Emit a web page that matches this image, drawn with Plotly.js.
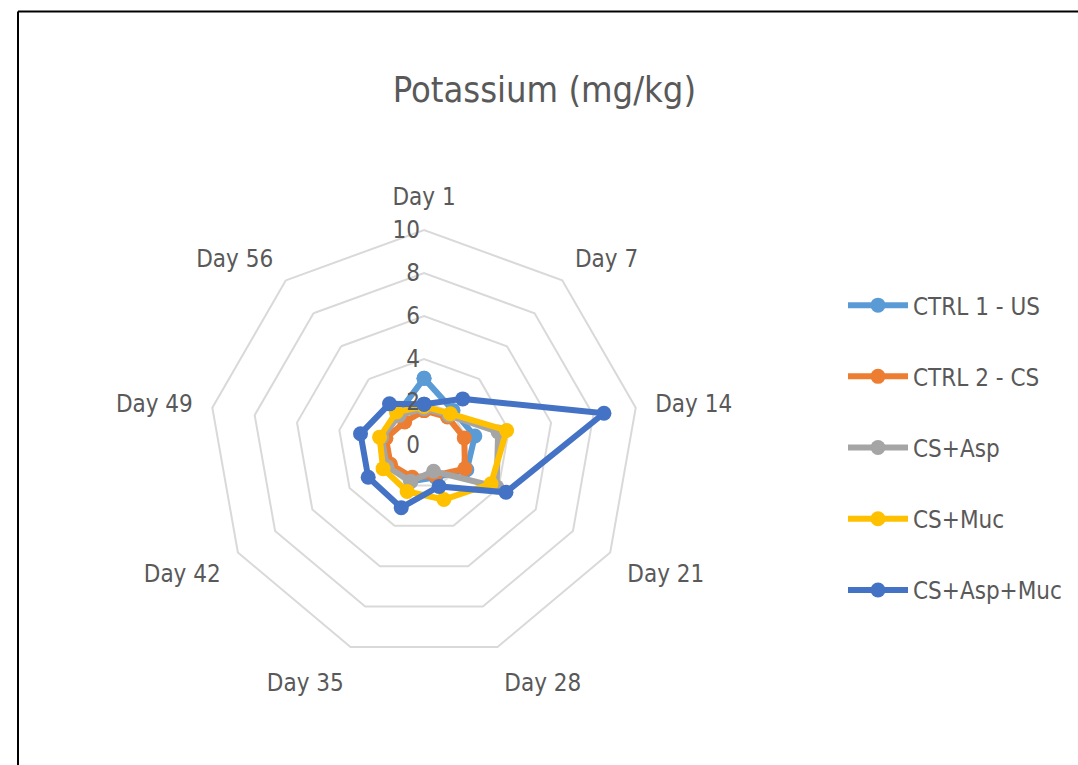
<!DOCTYPE html>
<html>
<head>
<meta charset="utf-8">
<script src="https://cdn.plot.ly/plotly-3.0.1.min.js"></script>
<style>
  html, body { margin: 0; padding: 0; background: #ffffff; }
  #chart { width: 1078px; height: 765px; }
</style>
</head>
<body>
<div id="chart"></div>
<script>
// ---- Data ----
var categories = ["Day 1", "Day 7", "Day 14", "Day 21", "Day 28", "Day 35", "Day 42", "Day 49", "Day 56"];
var seriesNames = ["CTRL 1 - US", "CTRL 2 - CS", "CS+Asp", "CS+Muc", "CS+Asp+Muc"];
var ctrl1US   = [3.1, 2.1, 2.4, 2.3, 1.6, 1.8, 1.9, 1.9, 1.9];
var ctrl2CS   = [1.6, 1.7, 1.9, 2.2, 1.5, 1.6, 1.8, 1.8, 1.4];
var csAsp     = [1.7, 1.8, 3.5, 3.9, 1.3, 1.8, 2.0, 2.0, 1.8];
var csMuc     = [1.8, 1.9, 3.9, 3.6, 2.7, 2.3, 2.2, 2.1, 2.0];
var csAspMuc  = [1.9, 2.8, 8.5, 4.4, 2.05, 3.1, 3.0, 3.0, 2.5];
var radialTicks = [0, 2, 4, 6, 8, 10];

var seriesValues = [ctrl1US, ctrl2CS, csAsp, csMuc, csAspMuc];
var colors = ["#5B9BD5", "#ED7D31", "#A5A5A5", "#FFC000", "#4472C4"];

var FONT = "DejaVu Sans Condensed, Liberation Sans Narrow, sans-serif";
var TXT = "#595959";

var traces = seriesValues.map(function (vals, i) {
  return {
    type: "scatterpolar",
    mode: "lines+markers",
    name: seriesNames[i],
    legendgroup: "g" + i,
    r: vals.concat([vals[0]]),
    theta: categories.concat([categories[0]]),
    line: { color: colors[i], width: 6 },
    marker: { color: colors[i], size: 15 },
    hoverinfo: "name+r+theta"
  };
});

var layout = {
  width: 1078,
  height: 765,
  margin: { l: 0, r: 0, t: 0, b: 0 },
  paper_bgcolor: "#ffffff",
  font: { family: FONT, color: TXT, size: 24 },
  title: {
    text: "Potassium (mg/kg)",
    x: 0.505, xanchor: "center",
    y: 0.883, yanchor: "middle",
    font: { family: FONT, size: 36, color: TXT }
  },
  showlegend: true,
  legend: {
    x: 0.782, xanchor: "left",
    y: 0.63, yanchor: "top",
    font: { family: FONT, size: 24, color: TXT },
    tracegroupgap: 37,
    itemwidth: 60,
    bgcolor: "rgba(0,0,0,0)"
  },
  polar: {
    domain: { x: [0.1939, 0.5928], y: [0.1373, 0.6993] },
    bgcolor: "#ffffff",
    gridshape: "linear",
    angularaxis: {
      direction: "clockwise",
      rotation: 90,
      showgrid: false,
      showline: true,
      linecolor: "#D9D9D9",
      linewidth: 2,
      ticks: "outside",
      ticklen: 14,
      tickcolor: "rgba(255,255,255,0)",
      tickfont: { family: FONT, size: 24, color: TXT }
    },
    radialaxis: {
      range: [0, 10],
      tickvals: radialTicks,
      ticktext: radialTicks.map(String),
      angle: 90,
      side: "counterclockwise",
      showline: false,
      ticks: "",
      showgrid: true,
      gridcolor: "#D9D9D9",
      gridwidth: 2,
      tickangle: 90,
      tickfont: { family: FONT, size: 24, color: TXT }
    }
  },
  shapes: [
    { type: "line", xref: "paper", yref: "paper", x0: 0.0167, x1: 1, y0: 0.985, y1: 0.985,
      line: { color: "#000000", width: 2 } },
    { type: "line", xref: "paper", yref: "paper", x0: 0.0167, x1: 0.0167, y0: 0, y1: 0.985,
      line: { color: "#000000", width: 2 } }
  ]
};

Plotly.newPlot("chart", traces, layout, { displayModeBar: false, responsive: false });
</script>
</body>
</html>
